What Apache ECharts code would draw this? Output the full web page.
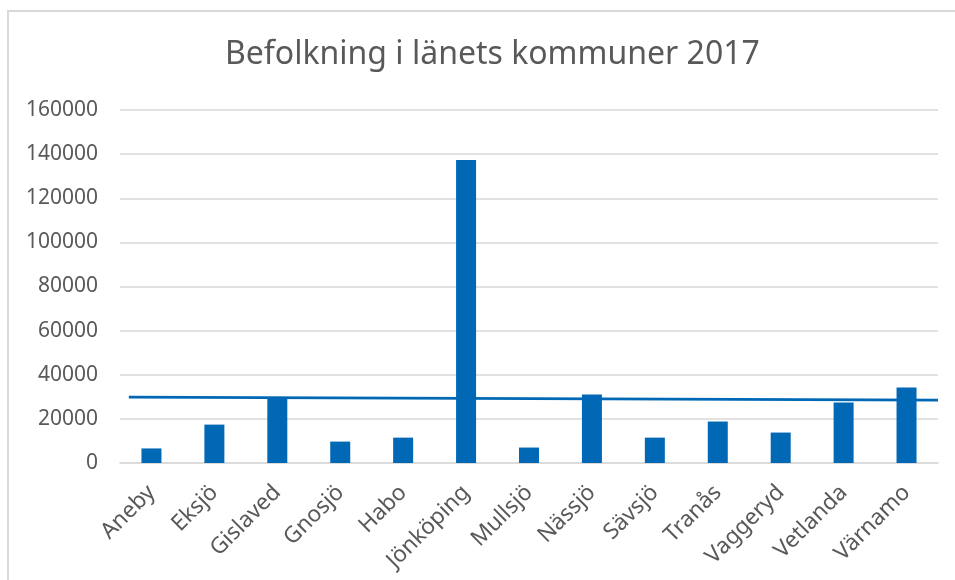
<!DOCTYPE html>
<html>
<head>
<meta charset="utf-8">
<script src="https://cdn.jsdelivr.net/npm/echarts@6/dist/echarts.min.js"></script>
<style>
    html, body { margin: 0; padding: 0; background: #fff; }
    #frame { position: absolute; left: 7px; top: 10px; width: 960px; height: 600px;
             border-left: 2px solid #d9d9d9; border-top: 2px solid #d9d9d9; }
    #chart { position: absolute; left: 0; top: 0; width: 955px; height: 580px; }
</style>
</head>
<body>
<div id="frame"></div>
<div id="chart"></div>
<script>
const kommuner = ['Aneby', 'Eksjö', 'Gislaved', 'Gnosjö', 'Habo', 'Jönköping', 'Mullsjö',
    'Nässjö', 'Sävsjö', 'Tranås', 'Vaggeryd', 'Vetlanda', 'Värnamo'];
const befolkning = [6600, 17400, 29500, 9700, 11500, 137300, 7000,
    31000, 11500, 18800, 13800, 27400, 34200];
// linjär trendlinje, ändpunkter
const trendX = [0.64, 13.5];
const trendY = [29900, 28500];

const myChart = echarts.init(document.getElementById('chart'));
const font = 'Noto Sans';
const grey = '#595959';

const option = {
    animation: false,
    title: {
        text: 'Befolkning i länets kommuner 2017',
        left: 220,
        top: 34,
        textStyle: { fontFamily: font, fontSize: 32, fontWeight: 'normal', color: grey }
    },
    grid: { left: 120, right: 17, top: 110, bottom: 117 },
    xAxis: [
        {
            type: 'category',
            data: kommuner,
            axisLine: { lineStyle: { color: '#d9d9d9', width: 1.5 } },
            axisTick: { show: false },
            axisLabel: {
                rotate: 45,
                interval: 0,
                margin: 26,
                fontFamily: font,
                fontSize: 22.5,
                color: grey
            }
        },
        {
            type: 'value',
            min: 0.5,
            max: 13.5,
            show: false
        }
    ],
    yAxis: {
        type: 'value',
        min: 0,
        max: 160000,
        interval: 20000,
        axisLine: { show: false },
        axisTick: { show: false },
        splitLine: { lineStyle: { color: '#d9d9d9', width: 1.5 } },
        axisLabel: { fontFamily: font, fontSize: 21, color: grey, margin: 22, formatter: v => String(v) }
    },
    series: [
        {
            type: 'bar',
            data: befolkning,
            barWidth: 20,
            itemStyle: { color: '#0068b5' }
        },
        {
            type: 'line',
            xAxisIndex: 1,
            data: trendX.map((x, i) => [x, trendY[i]]),
            symbol: 'none',
            lineStyle: { color: '#0068b5', width: 2.7 }
        }
    ]
};

myChart.setOption(option);
window.addEventListener('resize', myChart.resize);
</script>
</body>
</html>
